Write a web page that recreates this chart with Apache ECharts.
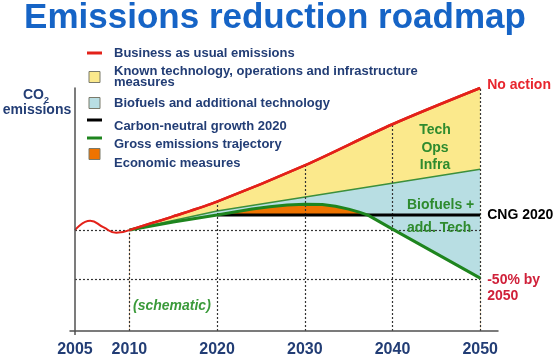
<!DOCTYPE html>
<html><head><meta charset="utf-8">
<script src="https://cdn.jsdelivr.net/npm/echarts@6.0.0/dist/echarts.min.js"></script>
<style>html,body{margin:0;padding:0;background:#fff}#c{width:555px;height:356px}</style>
</head><body><div id="c"></div>
<script>
const FONT = '"Liberation Sans", Arial, sans-serif';
const titleText = 'Emissions reduction roadmap';
const xTickYears = [2005, 2010, 2020, 2030, 2040, 2050];

// Business as usual emissions (schematic index, 2010 = 100)
const bauYears  = [2005, 2006.4, 2007.6, 2008.8, 2010, 2015, 2020, 2030, 2040, 2050];
const bauValues = [100, 109.5, 103, 97.2, 100, 114, 129, 166, 208, 245];

// Upper edge of the biofuels wedge (thin green line)
const bioYears  = [2010, 2020, 2050];
const bioValues = [100, 119.4, 162];

// Gross emissions trajectory (thick green line)
const grossYears  = [2010, 2015, 2020, 2022, 2024, 2026, 2028, 2030, 2032, 2033.5, 2035, 2036.2, 2037.2, 2040, 2045, 2050];
const grossValues = [100, 108.2, 115.3, 118.5, 121.5, 123.8, 125.5, 126.4, 126, 124.4, 121.4, 118.3, 115.3, 101, 76, 51];

// Carbon-neutral growth from 2020
const cngYears  = [2020, 2050];
const cngValues = [115.3, 115.3];

// Dashed reference levels: 2010 level and -50% level
const refLevels = [100, 50];
const refYears  = [2010, 2020, 2030, 2040, 2050];

const legendLabels = [
  'Business as usual emissions',
  'Known technology, operations and infrastructure\nmeasures',
  'Biofuels and additional technology',
  'Carbon-neutral growth 2020',
  'Gross emissions trajectory',
  'Economic measures'
];

// colours
const C_RED = '#E32119', C_YEL = '#FBE98C', C_BLUE = '#B8DEE3', C_ORANGE = '#EF7300',
      C_GREEN = '#1E851E', C_THIN = '#3C8F3C', C_NAVY = '#223D75', C_TXTGREEN = '#2E8B2E';
const legendColors = [C_RED, C_YEL, C_BLUE, '#000000', C_GREEN, C_ORANGE];
const legendKinds  = ['line', 'box', 'box', 'line', 'line', 'box'];

// the 2005-2010 stretch is drawn wider than the rest (schematic axis)
const PRE_SCALE = 1.2406;
function xv(yr) { return yr < 2010 ? 2010 - (2010 - yr) * PRE_SCALE : yr; }
const X_MIN = 2003.23, X_MAX = 2052.03, Y_MIN = -3, Y_MAX = 245;

function pairs(years, vals) { return years.map((y, i) => [xv(y), vals[i]]); }
const bauAll = pairs(bauYears, bauValues);
const bauMain = bauAll.filter(p => p[0] >= 2010);
const bauPre = bauAll.filter(p => p[0] <= 2010);
const bio = pairs(bioYears, bioValues);
const gross = pairs(grossYears, grossValues);
const cngLevel = cngValues[0];
const envelope = gross.map(p => [p[0], p[0] >= cngYears[0] ? Math.min(p[1], cngLevel) : p[1]]);
const cng = pairs(cngYears, cngValues);
function bauAt(yr) { return bauValues[bauYears.indexOf(yr)]; }

const dashed = [];
refYears.forEach(yr => dashed.push([{coord: [xv(yr), Y_MIN]}, {coord: [xv(yr), bauAt(yr)]}]));
refLevels.forEach(v => dashed.push([{coord: [xv(2005), v]}, {coord: [xv(2050), v]}]));

const chart = echarts.init(document.getElementById('c'), null, {renderer: 'canvas'});

const graphics = [];
graphics.push({type: 'text', x: 275, y: 18, style: {text: titleText, fontFamily: FONT, fontSize: 35, fontWeight: 'bold', fill: '#1664C6', align: 'center', verticalAlign: 'middle'}});
// legend
const iconY = [53, 77, 103, 120, 138, 154];
const textY = [53, 77, 103, 126, 144, 163];
legendLabels.forEach((lab, i) => {
  if (legendKinds[i] === 'line') {
    graphics.push({type: 'rect', shape: {x: 87, y: iconY[i] - 1.5, width: 15, height: 3}, style: {fill: legendColors[i]}});
  } else {
    graphics.push({type: 'rect', shape: {x: 89, y: iconY[i] - 5.5, width: 11, height: 11}, style: {fill: legendColors[i], stroke: '#7a7a6a', lineWidth: 1}});
  }
  graphics.push({type: 'text', x: 114, y: textY[i], style: {text: lab, fontFamily: FONT, fontSize: 13, fontWeight: 'bold', fill: C_NAVY, verticalAlign: 'middle', lineHeight: 11}});
});
// y axis name
graphics.push({type: 'text', x: 23, y: 95, style: {text: 'CO', fontFamily: FONT, fontSize: 14, fontWeight: 'bold', fill: C_NAVY, verticalAlign: 'middle'}});
graphics.push({type: 'text', x: 44, y: 101, style: {text: '2', fontFamily: FONT, fontSize: 9, fontWeight: 'bold', fill: C_NAVY, verticalAlign: 'middle'}});
graphics.push({type: 'text', x: 37, y: 110, style: {text: 'emissions', fontFamily: FONT, fontSize: 14, fontWeight: 'bold', fill: C_NAVY, align: 'center', verticalAlign: 'middle'}});
// annotations
graphics.push({type: 'text', x: 435, y: 148, z: 20, style: {text: 'Tech\nOps\nInfra', fontFamily: FONT, fontSize: 14, fontWeight: 'bold', fill: C_TXTGREEN, align: 'center', verticalAlign: 'middle', lineHeight: 17.5}});
graphics.push({type: 'text', x: 407, y: 205, z: 20, style: {text: 'Biofuels +', fontFamily: FONT, fontSize: 14, fontWeight: 'bold', fill: C_TXTGREEN, verticalAlign: 'middle'}});
graphics.push({type: 'text', x: 407, y: 228, z: 20, style: {text: 'add. Tech', fontFamily: FONT, fontSize: 14, fontWeight: 'bold', fill: C_TXTGREEN, verticalAlign: 'middle'}});
graphics.push({type: 'text', x: 133, y: 306, z: 20, style: {text: '(schematic)', fontFamily: FONT, fontSize: 14, fontWeight: 'bold', fontStyle: 'italic', fill: '#3A9A3A', verticalAlign: 'middle'}});

const noLine = {width: 0, opacity: 0};
chart.setOption({
  animation: false,
  backgroundColor: '#ffffff',
  grid: {left: 70, right: 57, top: 88, bottom: 25, containLabel: false, outerBoundsMode: 'none'},
  xAxis: {
    type: 'value', min: X_MIN, max: X_MAX, z: 10,
    axisLine: {show: true, onZero: false, lineStyle: {color: '#505050', width: 1.5}},
    axisTick: {show: true, customValues: [xv(xTickYears[0])], length: 4, lineStyle: {color: '#505050', width: 1.5}},
    splitLine: {show: false},
    axisLabel: {
      customValues: xTickYears.map(xv),
      formatter: v => { const i = xTickYears.findIndex(y => Math.abs(xv(y) - v) < 1e-6); return i >= 0 ? String(xTickYears[i]) : ''; },
      fontFamily: FONT, fontSize: 16, fontWeight: 'bold', color: C_NAVY, margin: 11
    }
  },
  yAxis: {
    type: 'value', min: Y_MIN, max: Y_MAX, z: 10, offset: -5,
    axisLine: {show: true, onZero: false, lineStyle: {color: '#505050', width: 1.5}},
    axisTick: {show: false}, axisLabel: {show: false}, splitLine: {show: false}
  },
  graphic: graphics,
  series: [
    {name: 'Known technology, operations and infrastructure measures', type: 'line', data: bauMain, smooth: 0.3, symbol: 'none', z: 1,
      lineStyle: {color: C_RED, width: 2.5}, areaStyle: {color: C_YEL, opacity: 1, origin: 'start'},
      endLabel: {show: true, formatter: 'No action', distance: 7, offset: [0, -3], color: '#E8262E', fontFamily: FONT, fontSize: 14, fontWeight: 'bold'}},
    {name: 'Biofuels and additional technology', type: 'line', data: bio, symbol: 'none', z: 1,
      lineStyle: {color: C_THIN, width: 1.5}, areaStyle: {color: C_BLUE, opacity: 1, origin: 'start'}},
    {name: 'Economic measures', type: 'line', data: gross, symbol: 'none', z: 1,
      lineStyle: noLine, areaStyle: {color: C_ORANGE, opacity: 1, origin: 'start'}},
    {name: 'below', type: 'line', data: envelope, symbol: 'none', z: 1,
      lineStyle: noLine, areaStyle: {color: '#ffffff', opacity: 1, origin: 'start'}},
    {name: 'reference', type: 'line', data: [], symbol: 'none', z: 3,
      markLine: {silent: true, symbol: 'none', label: {show: false}, z: 3, animation: false,
        lineStyle: {type: [2, 2], color: '#333333', width: 1.2}, data: dashed}},
    {name: 'Carbon-neutral growth 2020', type: 'line', data: cng, symbol: 'none', z: 4,
      lineStyle: {color: '#000000', width: 3},
      endLabel: {show: true, formatter: 'CNG 2020', distance: 7, color: '#000000', fontFamily: FONT, fontSize: 14, fontWeight: 'bold'}},
    {name: 'Gross emissions trajectory', type: 'line', data: gross, symbol: 'none', z: 4,
      lineStyle: {color: C_GREEN, width: 3},
      endLabel: {show: true, formatter: '-50% by\n2050', distance: 7, offset: [0, 10], lineHeight: 16, color: '#D0213A', fontFamily: FONT, fontSize: 14, fontWeight: 'bold'}},
    {name: 'Business as usual emissions', type: 'line', data: bauPre, smooth: 0.5, symbol: 'none', z: 4,
      lineStyle: {color: C_RED, width: 2}},
    {name: 'Business as usual emissions (line)', type: 'line', data: bauMain, smooth: 0.3, symbol: 'none', z: 4,
      lineStyle: {color: C_RED, width: 2.5}}
  ]
});
</script></body></html>
